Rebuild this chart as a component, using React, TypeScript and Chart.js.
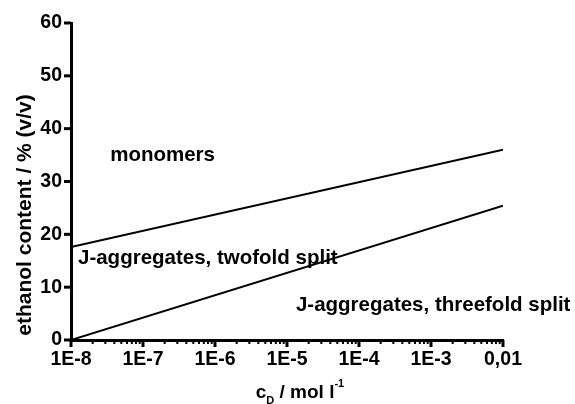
import React, { useEffect, useRef } from "react";
import { Chart, registerables } from "chart.js";

Chart.register(...registerables);

// Data
const xEnds = [1e-8, 0.01];
const monomerBoundary = [17.6, 36.0];
const threefoldBoundary = [0.0, 25.4];
const xTickValues = [1e-8, 1e-7, 1e-6, 1e-5, 1e-4, 1e-3, 1e-2];
const xTickLabels = ["1E-8", "1E-7", "1E-6", "1E-5", "1E-4", "1E-3", "0,01"];
const regionLabels = ["monomers", "J-aggregates, twofold split", "J-aggregates, threefold split"];
const regionAnchorX = [3.5e-8, 1.25e-8, 1.33e-5];
const regionAnchorY = [35.0, 15.4, 6.5];

const FONT_FAMILY = "Arial, 'Liberation Sans', sans-serif";

const customDraw = {
  id: "customDraw",
  afterDraw(chart: any) {
    const ctx = chart.ctx as CanvasRenderingContext2D;
    const xs = chart.scales.x;
    const ys = chart.scales.y;
    const area = chart.chartArea;
    ctx.save();
    ctx.strokeStyle = "#000";
    ctx.fillStyle = "#000";
    // y ticks
    ctx.lineWidth = 3;
    for (const t of ys.ticks) {
      const py = ys.getPixelForValue(t.value);
      ctx.beginPath();
      ctx.moveTo(area.left - 7, py);
      ctx.lineTo(area.left, py);
      ctx.stroke();
    }
    // x ticks major + minor
    for (let d = 0; d < xTickValues.length; d++) {
      const base = xTickValues[d];
      const px = xs.getPixelForValue(base);
      ctx.lineWidth = 3;
      ctx.beginPath();
      ctx.moveTo(px, area.bottom);
      ctx.lineTo(px, area.bottom + 7);
      ctx.stroke();
      if (d < xTickValues.length - 1) {
        ctx.lineWidth = 2;
        for (let m = 2; m <= 9; m++) {
          const mx = xs.getPixelForValue(base * m);
          ctx.beginPath();
          ctx.moveTo(mx, area.bottom);
          ctx.lineTo(mx, area.bottom + 4);
          ctx.stroke();
        }
      }
    }
    // region labels
    ctx.font = `bold 20.5px ${FONT_FAMILY}`;
    ctx.textAlign = "left";
    ctx.textBaseline = "middle";
    for (let i = 0; i < regionLabels.length; i++) {
      ctx.fillText(regionLabels[i], xs.getPixelForValue(regionAnchorX[i]), ys.getPixelForValue(regionAnchorY[i]));
    }
    // y title
    ctx.save();
    ctx.translate(25, 215);
    ctx.rotate(-Math.PI / 2);
    ctx.textAlign = "center";
    ctx.textBaseline = "middle";
    ctx.font = `bold 21px ${FONT_FAMILY}`;
    ctx.fillText("ethanol content / % (v/v)", 0, 0);
    ctx.restore();
    // x title: c_D / mol l^-1
    const cx = 300;
    const by = 398;
    const mainFont = `bold 19px ${FONT_FAMILY}`;
    const smallFont = `bold 11px ${FONT_FAMILY}`;
    ctx.textBaseline = "alphabetic";
    ctx.textAlign = "left";
    ctx.font = mainFont;
    const wC = ctx.measureText("c").width;
    const wMid = ctx.measureText(" / mol l").width;
    ctx.font = smallFont;
    const wD = ctx.measureText("D").width;
    const wSup = ctx.measureText("-1").width;
    const total = wC + wD + wMid + wSup;
    let x0 = cx - total / 2;
    ctx.font = mainFont;
    ctx.fillText("c", x0, by);
    x0 += wC;
    ctx.font = smallFont;
    ctx.fillText("D", x0, by + 6);
    x0 += wD;
    ctx.font = mainFont;
    ctx.fillText(" / mol l", x0, by);
    x0 += wMid;
    ctx.font = smallFont;
    ctx.fillText("-1", x0, by - 11);
    ctx.restore();
  },
};

export default function App() {
  const ref = useRef<HTMLCanvasElement>(null);
  useEffect(() => {
    document.body.style.margin = "0";
    const canvas = ref.current!;
    const chart = new Chart(canvas, {
      type: "scatter",
      data: {
        datasets: [
          {
            data: xEnds.map((x, i) => ({ x, y: monomerBoundary[i] })),
            showLine: true,
            borderColor: "#000",
            borderWidth: 2,
            pointRadius: 0,
          },
          {
            data: xEnds.map((x, i) => ({ x, y: threefoldBoundary[i] })),
            showLine: true,
            borderColor: "#000",
            borderWidth: 2,
            pointRadius: 0,
          },
        ],
      },
      options: {
        animation: false,
        responsive: false,
        layout: { padding: { top: 23, right: 72, left: 0, bottom: 0 } },
        plugins: { legend: { display: false }, tooltip: { enabled: false } },
        scales: {
          x: {
            type: "logarithmic",
            min: 1e-8,
            max: 0.01,
            afterBuildTicks: (scale: any) => {
              scale.ticks = xTickValues.map((v) => ({ value: v }));
            },
            afterFit: (scale: any) => {
              scale.height = 64;
            },
            grid: { display: false, drawTicks: false },
            border: { display: true, color: "#000", width: 3 },
            ticks: {
              autoSkip: false,
              maxRotation: 0,
              padding: 8,
              color: "#000",
              font: { family: FONT_FAMILY, size: 19.5, weight: "bold" },
              callback: (_v: any, i: number) => xTickLabels[i],
            },
          },
          y: {
            min: 0,
            max: 60,
            afterFit: (scale: any) => {
              scale.width = 71;
            },
            grid: { display: false, drawTicks: false },
            border: { display: true, color: "#000", width: 3 },
            ticks: {
              stepSize: 10,
              padding: 9,
              color: "#000",
              font: { family: FONT_FAMILY, size: 19.5, weight: "bold" },
            },
          },
        },
      },
      plugins: [customDraw],
    } as any);
    return () => chart.destroy();
  }, []);
  return <canvas ref={ref} width={575} height={404} style={{ display: "block" }} />;
}
